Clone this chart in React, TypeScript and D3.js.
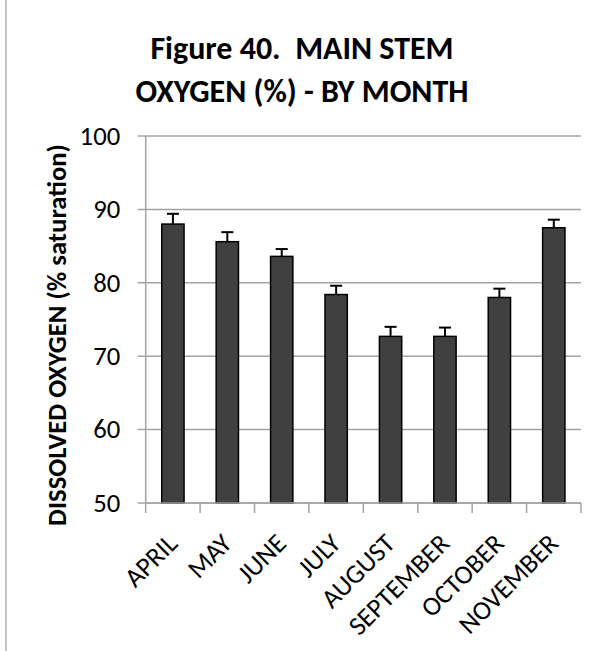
/**
 * MainStemOxygen
 * Bar chart of dissolved oxygen (% saturation) by month with error bars
 */

import { useEffect, useRef } from 'react';
import * as d3 from 'd3';

const MONTHS = ['APRIL', 'MAY', 'JUNE', 'JULY', 'AUGUST', 'SEPTEMBER', 'OCTOBER', 'NOVEMBER'];
const MEAN_VALUES = [88.0, 85.6, 83.6, 78.4, 72.7, 72.7, 78.0, 87.5];
const UPPER_ERRORS = [1.4, 1.3, 1.0, 1.2, 1.3, 1.2, 1.2, 1.1];
const Y_TICKS = [50, 60, 70, 80, 90, 100];
const TITLE_LINES = ['Figure 40.  MAIN STEM', 'OXYGEN (%) - BY MONTH'];
const Y_LABEL = 'DISSOLVED OXYGEN (% saturation)';

const WIDTH = 603;
const HEIGHT = 651;
const FONT = "Carlito, Calibri, 'Open Sans', sans-serif";
const GRID = '#a3a3a3';

export default function App() {
  const svgRef = useRef<SVGSVGElement>(null);

  useEffect(() => {
    if (!svgRef.current) return;
    const svg = d3.select(svgRef.current);
    svg.selectAll('*').remove();

    const margin = { top: 136, left: 145.7, right: 22, bottom: 148 };
    const innerWidth = WIDTH - margin.left - margin.right;
    const innerHeight = HEIGHT - margin.top - margin.bottom;

    svg.append('rect').attr('width', WIDTH).attr('height', HEIGHT).attr('fill', '#fff');

    // chart border (left edge visible)
    svg
      .append('line')
      .attr('x1', 6)
      .attr('x2', 6)
      .attr('y1', 0)
      .attr('y2', HEIGHT)
      .attr('stroke', '#b0b0b0')
      .attr('stroke-width', 1.5);

    // Title
    svg
      .append('g')
      .selectAll('text')
      .data(TITLE_LINES)
      .join('text')
      .attr('x', 302)
      .attr('y', (_, i) => 59 + i * 43)
      .attr('text-anchor', 'middle')
      .attr('font-family', FONT)
      .attr('font-weight', 'bold')
      .attr('font-size', 32)
      .attr('fill', '#000')
      .style('white-space', 'pre')
      .text((d) => d);

    const g = svg.append('g').attr('transform', `translate(${margin.left},${margin.top})`);

    const xScale = d3.scaleBand().domain(MONTHS).range([0, innerWidth]).paddingInner(0.59).paddingOuter(0.295);
    const xBand = d3.scaleBand().domain(MONTHS).range([0, innerWidth]);
    const yScale = d3.scaleLinear().domain([50, 100]).range([innerHeight, 0]);

    // Grid lines with outward ticks
    g.selectAll('line.grid')
      .data(Y_TICKS)
      .join('line')
      .attr('class', 'grid')
      .attr('x1', -8)
      .attr('x2', innerWidth)
      .attr('y1', (d) => yScale(d))
      .attr('y2', (d) => yScale(d))
      .attr('stroke', GRID)
      .attr('stroke-width', 1.5);

    // Y axis line
    g.append('line')
      .attr('x1', 0)
      .attr('x2', 0)
      .attr('y1', 0)
      .attr('y2', innerHeight)
      .attr('stroke', GRID)
      .attr('stroke-width', 1.5);

    // X tick marks at category boundaries
    const boundaries = [...MONTHS.map((m) => xBand(m) || 0), innerWidth];
    g.selectAll('line.xtick')
      .data(boundaries)
      .join('line')
      .attr('class', 'xtick')
      .attr('x1', (d) => d)
      .attr('x2', (d) => d)
      .attr('y1', innerHeight)
      .attr('y2', innerHeight + 10)
      .attr('stroke', GRID)
      .attr('stroke-width', 1.5);

    // Y tick labels
    g.selectAll('text.ytick')
      .data(Y_TICKS)
      .join('text')
      .attr('class', 'ytick')
      .attr('x', -25.5)
      .attr('y', (d) => yScale(d))
      .attr('dy', '0.33em')
      .attr('text-anchor', 'end')
      .attr('font-family', FONT)
      .attr('font-size', 26.7)
      .attr('fill', '#000')
      .text((d) => d);

    // Bars
    g.selectAll('rect.bar')
      .data(MONTHS)
      .join('rect')
      .attr('class', 'bar')
      .attr('x', (d) => xScale(d) || 0)
      .attr('y', (_, i) => yScale(MEAN_VALUES[i]))
      .attr('width', xScale.bandwidth())
      .attr('height', (_, i) => innerHeight - yScale(MEAN_VALUES[i]))
      .attr('fill', '#404040')
      .attr('stroke', '#000')
      .attr('stroke-width', 1.5);

    // Error bars (upper only)
    const errG = g.append('g').attr('stroke', '#000').attr('stroke-width', 2);
    MONTHS.forEach((m, i) => {
      const cx = (xScale(m) || 0) + xScale.bandwidth() / 2;
      const y0 = yScale(MEAN_VALUES[i]);
      const y1 = yScale(MEAN_VALUES[i] + UPPER_ERRORS[i]);
      errG.append('line').attr('x1', cx).attr('x2', cx).attr('y1', y0).attr('y2', y1);
      errG.append('line').attr('x1', cx - 6).attr('x2', cx + 6).attr('y1', y1).attr('y2', y1);
    });

    // X axis baseline
    g.append('line')
      .attr('x1', 0)
      .attr('x2', innerWidth)
      .attr('y1', innerHeight)
      .attr('y2', innerHeight)
      .attr('stroke', GRID)
      .attr('stroke-width', 1.5);

    // X labels rotated
    g.selectAll('text.xlabel')
      .data(MONTHS)
      .join('text')
      .attr('class', 'xlabel')
      .attr('transform', (d) => {
        const cx = (xBand(d) || 0) + xBand.bandwidth() / 2 + 6;
        return `translate(${cx},${innerHeight + 42}) rotate(-45)`;
      })
      .attr('text-anchor', 'end')
      .attr('font-family', FONT)
      .attr('font-size', 26.7)
      .attr('fill', '#000')
      .text((d) => d);

    // Y axis title
    svg
      .append('text')
      .attr('transform', 'translate(66,335) rotate(-90)')
      .attr('text-anchor', 'middle')
      .attr('font-family', FONT)
      .attr('font-weight', 'bold')
      .attr('font-size', 26.7)
      .attr('fill', '#000')
      .text(Y_LABEL);
  }, []);

  return (
    <svg
      ref={svgRef}
      width={WIDTH}
      height={HEIGHT}
      style={{ position: 'absolute', left: 0, top: 0 }}
    />
  );
}
